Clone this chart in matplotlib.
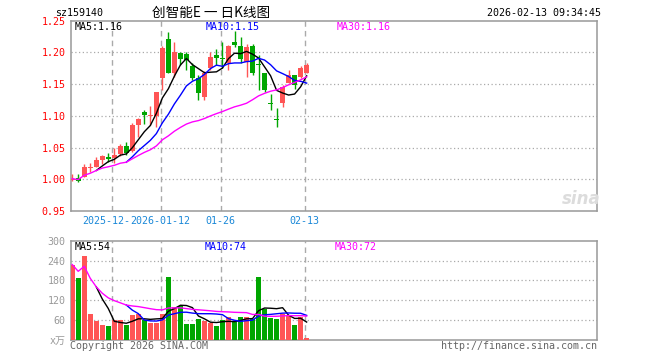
import matplotlib
matplotlib.use('Agg')
import matplotlib.pyplot as plt
import numpy as np
import pandas as pd
from matplotlib.transforms import blended_transform_factory

plt.rcParams['font.family'] = ['DejaVu Sans Mono', 'Noto Sans CJK SC']

# ---------------- data ----------------
opens = [0.999, 1.002, 1.004, 1.018, 1.020, 1.031, 1.035, 1.034, 1.040, 1.052,
         1.045, 1.086, 1.106, 1.100, 1.099, 1.160, 1.221, 1.168, 1.199, 1.197,
         1.179, 1.159, 1.129, 1.176, 1.196, 1.190, 1.183, 1.216, 1.210, 1.185,
         1.210, 1.181, 1.167, 1.120, 1.095, 1.120, 1.152, 1.164, 1.162, 1.167]
closes = [1.001, 0.998, 1.020, 1.019, 1.031, 1.037, 1.032, 1.038, 1.052, 1.041,
          1.086, 1.095, 1.101, 1.101, 1.137, 1.207, 1.168, 1.200, 1.189, 1.188,
          1.159, 1.136, 1.168, 1.193, 1.191, 1.189, 1.210, 1.211, 1.189, 1.209,
          1.167, 1.180, 1.141, 1.119, 1.094, 1.146, 1.164, 1.149, 1.176, 1.180]
highs = [1.009, 1.008, 1.024, 1.026, 1.035, 1.039, 1.041, 1.050, 1.055, 1.059,
         1.088, 1.097, 1.110, 1.115, 1.138, 1.210, 1.232, 1.217, 1.201, 1.201,
         1.183, 1.165, 1.170, 1.200, 1.206, 1.217, 1.211, 1.234, 1.225, 1.214,
         1.214, 1.196, 1.168, 1.135, 1.113, 1.149, 1.172, 1.165, 1.178, 1.183]
lows = [0.998, 0.995, 1.003, 1.012, 1.019, 1.024, 1.027, 1.026, 1.036, 1.039,
        1.043, 1.066, 1.087, 1.085, 1.083, 1.141, 1.167, 1.162, 1.180, 1.172,
        1.156, 1.125, 1.125, 1.172, 1.180, 1.175, 1.172, 1.209, 1.183, 1.161,
        1.164, 1.141, 1.138, 1.110, 1.083, 1.114, 1.151, 1.143, 1.159, 1.167]
volumes = [228, 187, 253, 78, 57, 45, 43, 60, 60, 45,
           75, 80, 60, 52, 52, 80, 190, 100, 103, 48,
           48, 63, 58, 52, 43, 60, 69, 53, 69, 69,
           63, 189, 93, 66, 62, 78, 75, 45, 68, 5]

date_labels = ['2025-12-29', '2026-01-12', '01-26', '02-13']
date_index = [7, 15, 25, 39]
price_ticks = [0.95, 1.00, 1.05, 1.10, 1.15, 1.20, 1.25]
vol_ticks = [0, 60, 120, 180, 240, 300]
vol_tick_labels = ['x万', '60', '120', '180', '240', '300']

code = 'sz159140'
title = '创智能E 一 日K线图'
timestamp = '2026-02-13 09:34:45'

# ---------------- styling ----------------
W, H = 660, 360
RED = '#ff5555'
GREEN = '#00a600'
FRAME = '#999999'
GRID = '#aaaaaa'
FS = 7.2
SLOT_PX = 6.0  # pixels per candle slot

def rect(x0, y0, x1, y1):
    return [x0 / W, 1 - y1 / H, (x1 - x0) / W, (y1 - y0) / H]

fig = plt.figure(figsize=(6.6, 3.6), dpi=100)
ax = fig.add_axes(rect(71, 20.7, 597, 211))
axv = fig.add_axes(rect(71, 240.7, 597, 340))

o = np.array(opens); c = np.array(closes); h = np.array(highs); l = np.array(lows)
v = np.array(volumes)
n = len(o)
x = np.arange(n)
cols = np.where(c >= o, RED, GREEN)

s = pd.Series(c)
ma5 = s.rolling(5).mean()
ma10 = s.rolling(10).mean()
ma30 = s.rolling(30, min_periods=1).mean()
sv = pd.Series(v.astype(float))
vma5 = sv.rolling(5).mean()
vma10 = sv.rolling(10).mean()
vma30 = sv.rolling(30, min_periods=1).mean()

xmin, xmax = -0.2, 87.3

# price panel
ax.vlines(x, l, h, colors=cols, lw=1, zorder=3)
body_b = np.minimum(o, c)
body_h = np.maximum(np.abs(c - o), 0.0016)
ax.bar(x, body_h, bottom=body_b, width=0.8, color=cols, linewidth=0, zorder=3)
ax.plot(x, ma5, color='black', lw=1, zorder=4)
ax.plot(x, ma10, color='#0000ff', lw=1, zorder=4)
ax.plot(x, ma30, color='#ff00ff', lw=1, zorder=4)

# volume panel
axv.bar(x, v, width=0.8, color=cols, linewidth=0, zorder=3)
axv.plot(x, vma5, color='black', lw=1, zorder=4)
axv.plot(x, vma10, color='#0000ff', lw=1, zorder=4)
axv.plot(x, vma30, color='#ff00ff', lw=1, zorder=4)

for a, ylim, ticks in ((ax, (0.95, 1.25), price_ticks), (axv, (0, 300), vol_ticks)):
    a.set_xlim(xmin, xmax)
    a.set_ylim(*ylim)
    a.set_xticks([])
    a.set_yticks(ticks)
    for sp in a.spines.values():
        sp.set_color(FRAME)
        sp.set_linewidth(1.1)
    a.tick_params(axis='y', length=0, pad=4, labelsize=FS)
    for t in ticks[1:-1]:
        a.axhline(t, color=GRID, lw=0.9, ls=(0, (1, 2)), zorder=1)
    for d in date_index:
        a.axvline(d - 0.3, color=GRID, lw=1, ls=(0, (4, 3)), zorder=1)

ax.set_yticklabels([f'{t:.2f}' for t in price_ticks], color='#ff0000')
axv.set_yticklabels(vol_tick_labels, color=FRAME)

# date labels (the first one is partly hidden by the second, as in the source chart)
tr = blended_transform_factory(ax.transData, ax.transAxes)
char_slots = 1.0  # one monospace character ~ one candle slot (6 px)
second_left = date_index[1] - 0.3 - len(date_labels[1]) * char_slots / 2
first_visible = date_labels[0][:8]
ax.text(second_left - 0.05, -0.053, first_visible, transform=tr, ha='right', va='center',
        fontsize=FS, color='#1a88d8', clip_on=False)
for d, lab in zip(date_index[1:], date_labels[1:]):
    ax.text(d - 0.3, -0.053, lab, transform=tr, ha='center', va='center',
            fontsize=FS, color='#1a88d8', clip_on=False)

# header texts
fig.text(55 / W, 1 - 13 / H, code, fontsize=FS, va='center', ha='left', color='black')
fig.text(152 / W, 1 - 12.5 / H, title, fontsize=9.8, va='center', ha='left',
         family=['Noto Sans CJK SC', 'DejaVu Sans'], color='black')
fig.text(601 / W, 1 - 13 / H, timestamp, fontsize=FS, va='center', ha='right', color='black')

# MA legends
fig.text(75 / W, 1 - 27.5 / H, f'MA5:{ma5.iloc[-1]:.2f}', fontsize=FS, va='center', color='black')
fig.text(206 / W, 1 - 27.5 / H, f'MA10:{ma10.iloc[-1]:.2f}', fontsize=FS, va='center', color='#0000ff')
fig.text(337 / W, 1 - 27.5 / H, f'MA30:{ma30.iloc[-1]:.2f}', fontsize=FS, va='center', color='#ff00ff')
fig.text(75 / W, 1 - 247 / H, f'MA5:{vma5.iloc[-1]:.0f}', fontsize=FS, va='center', color='black')
fig.text(205 / W, 1 - 247 / H, f'MA10:{vma10.iloc[-1]:.0f}', fontsize=FS, va='center', color='#0000ff')
fig.text(335 / W, 1 - 247 / H, f'MA30:{vma30.iloc[-1]:.0f}', fontsize=FS, va='center', color='#ff00ff')

# footer
fig.text(70 / W, 1 - 346 / H, 'Copyright 2026 SINA.COM', fontsize=FS, va='center', ha='left', color='#666666')
fig.text(597 / W, 1 - 346 / H, 'http://finance.sina.com.cn', fontsize=FS, va='center', ha='right', color='#666666')

# watermark
fig.text(581 / W, 1 - 199 / H, 'sina', fontsize=12, fontweight='bold', style='italic',
         family='DejaVu Sans', va='center', ha='center', color='#dcdcdc')

fig.savefig('out.png', dpi=100)
